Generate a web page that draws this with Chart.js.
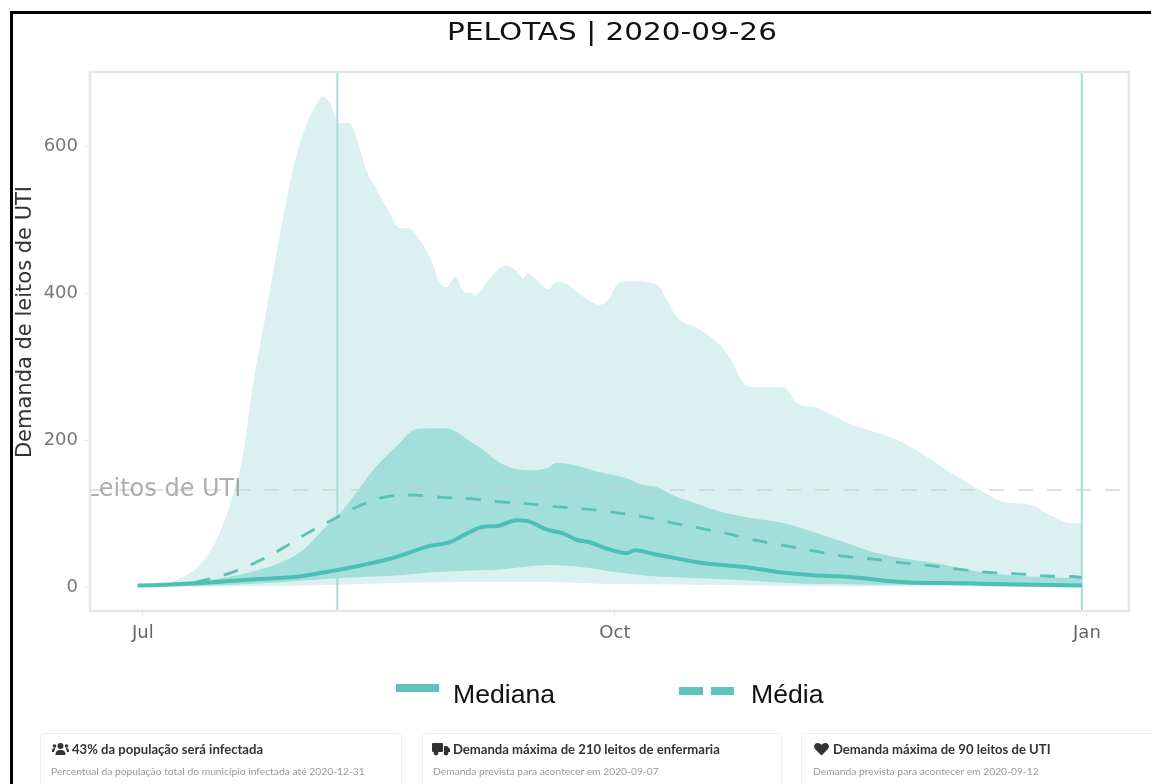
<!DOCTYPE html>
<html>
<head>
<meta charset="utf-8">
<title>PELOTAS</title>
<script src="https://cdn.jsdelivr.net/npm/chart.js@4"></script>
<style>
    html, body { margin: 0; padding: 0; background: #fff; }
    body { width: 1151px; height: 784px; position: relative; overflow: hidden; }
    #chart { position: absolute; left: 0; top: 0; }
    .frame { position: absolute; left: 10px; top: 11px; width: 1141px; height: 773px; border-left: 3px solid #000; border-top: 3px solid #000; box-sizing: border-box; }
    #title { position: absolute; left: 312px; width: 600px; top: 17px; text-align: center; font: 25px "DejaVu Sans"; color: #111; transform: scaleX(1.18); white-space: nowrap; }
    .legend-text { position: absolute; top: 679px; font: 26.6px "Liberation Sans"; color: #111; }
    .swatch { position: absolute; background: #5cc4bd; height: 8px; }
    .card { position: absolute; top: 733px; height: 70px; border: 1px solid #eee; border-radius: 4px; box-sizing: border-box; }
    .card b { position: absolute; top: 7px; white-space: nowrap; font: 700 13.1px Lato; color: #333; }
    .card span { position: absolute; top: 31px; white-space: nowrap; font: 10.3px Lato; color: #999; }
    .card svg { position: absolute; top: 8px; }
</style>
</head>
<body>
<canvas id="chart" width="1151" height="784"></canvas>
<div class="frame"></div>
<div id="title">PELOTAS | 2020-09-26</div>

<div class="swatch" style="left:396px;top:684px;width:43px"></div>
<div class="legend-text" style="left:453px">Mediana</div>
<div class="swatch" style="left:679px;top:687px;width:24px"></div>
<div class="swatch" style="left:711px;top:687px;width:23px"></div>
<div class="legend-text" style="left:751px">Média</div>

<div class="card" style="left:40px;width:362px">
    <svg style="left:11px" width="17" height="14" viewBox="0 0 17 14" fill="#333"><circle cx="8.5" cy="4" r="3"/><path d="M3.5 13c0-4 2-5 5-5s5 1 5 5z"/><circle cx="2.5" cy="4" r="1.8"/><circle cx="14.5" cy="4" r="1.8"/><path d="M0 9c0-2 1-3 2.500-3l1 .8C2.500 7.500 2.200 8.500 2 10H0zM17 9c0-2-1-3-2.500-3l-1 .8c1 .7 1.300 1.700 1.500 3.200h2z"/></svg>
    <b style="left:31px">43% da população será infectada</b>
    <span style="left:10px">Percentual da população total do município infectada até 2020-12-31</span>
</div>
<div class="card" style="left:422px;width:360px">
    <svg style="left:9px" width="18" height="14" viewBox="0 0 18 14" fill="#333"><rect x="0" y="1" width="11" height="9" rx="1"/><path d="M12 4h3l3 3v3h-6z"/><circle cx="4" cy="11" r="2.400"/><circle cx="14" cy="11" r="2.400"/></svg>
    <b style="left:30px">Demanda máxima de 210 leitos de enfermaria</b>
    <span style="left:10px">Demanda prevista para acontecer em 2020-09-07</span>
</div>
<div class="card" style="left:801px;width:380px">
    <svg style="left:12px" width="15" height="14" viewBox="0 0 15 14" fill="#333"><path d="M7.500 13.500L1 7C-1 4.500 .5 1 3.800 1c1.700 0 3 1 3.700 2 .7-1 2-2 3.700-2C14.500 1 16 4.500 14 7z"/></svg>
    <b style="left:31px">Demanda máxima de 90 leitos de UTI</b>
    <span style="left:11px">Demanda prevista para acontecer em 2020-09-12</span>
</div>

<script>
// days are counted from 1 July 2020
const monthDays = [0, 92, 184]
const monthLabels = ["Jul", "Oct", "Jan"]
const yTicks = [0, 200, 400, 600]
const markerDays = [37.9, 183]
const capacity = 132

const outerHighDays = [-1, 4.3, 7.2, 10.7, 13.6, 15.6, 17.5, 19.3, 20.3, 21, 21.6, 22.8, 24, 25.1, 26.3, 27.5, 28.8, 30.4, 32, 33.5, 35.1, 36.5, 37.6, 38.4, 40, 41.1, 42.3, 43.7, 45.6, 48.1, 50.1, 51.7, 54.4, 55.9, 57.9, 59.3, 60.8, 62.8, 63.7, 64.7, 67.1, 69.6, 71, 72.9, 74.1, 74.9, 76.8, 78.9, 80.7, 82.7, 85.8, 89.1, 90.4, 92.4, 94.9, 100.2, 102.1, 104.1, 108.6, 112.5, 114.4, 117.9, 120.3, 124.8, 127.5, 131.4, 137.2, 145.6, 150.1, 156.7, 163.2, 167.6, 172.9, 176.8, 180.7, 183]
const outerHigh = [2, 3, 12, 27, 54, 84, 124, 172, 216, 254, 282, 327, 373, 418, 463, 509, 554, 599, 631, 653, 667, 658, 639, 631, 631, 622, 595, 565, 540, 509, 488, 488, 468, 449, 414, 408, 422, 400, 401, 397, 415, 434, 437, 429, 420, 427, 418, 405, 415, 412, 395, 384, 388, 411, 416, 412, 390, 367, 350, 329, 312, 273, 272, 272, 250, 244, 224, 204, 189, 159, 132, 116, 112, 98, 87, 87]

const outerLowDays = [-1, 4.3, 20.9, 37.8, 50, 63, 79, 92, 108, 131, 183]
const outerLow = [2, 0, 1, 3, 6, 7, 7, 4, 3, 1, 0]

const innerHighDays = [-1, 4.3, 10.5, 13.6, 20.3, 26.7, 31.2, 35.1, 39, 42.9, 45.6, 49.5, 53.4, 58.9, 61.2, 63.4, 65.7, 69.6, 72.5, 76, 78.8, 80.7, 84.6, 89.1, 94.3, 96.9, 100.2, 103.3, 108.6, 110.5, 117.7, 124.8, 130.6, 137.2, 143.1, 150.1, 154, 163.7, 173.5, 183]
const innerHigh = [2, 3, 5, 10, 19, 33, 50, 78, 105, 141, 165, 192, 215, 216, 211, 200, 190, 169, 161, 159, 162, 169, 165, 156, 148, 140, 136, 125, 112, 107, 95, 87, 75, 60, 46, 37, 33, 20, 14, 12]

const innerLowDays = [-1, 4.3, 20.9, 37.8, 50.1, 56.5, 63.2, 69.6, 79.3, 85.8, 92.4, 98.8, 108.6, 117.7, 130.6, 147.6, 183]
const innerLow = [2, 1, 4, 12, 16, 20, 22, 24, 30, 27, 20, 15, 12, 9, 4, 3, 1]

const medianDays = [-1, 10.5, 20.3, 30, 37.8, 42.9, 49.5, 55.9, 59.8, 63.2, 66.3, 69, 72.9, 74.9, 78.8, 81.9, 84.6, 87.1, 89.7, 94.3, 95.9, 100.2, 104.1, 108.6, 111.1, 117.7, 124.2, 130.6, 137.2, 147.6, 160.6, 173.5, 183]
const median = [2, 5, 10, 14, 23, 30, 41, 56, 61, 73, 82, 83, 91, 90, 78, 73, 64, 61, 54, 46, 50, 44, 39, 33, 31, 27, 20, 16, 14, 7, 5, 3, 2]

const meanDays = [-1, 4.3, 10.5, 17, 22.2, 27.3, 32, 36.8, 41.7, 46.8, 52.6, 58.3, 64.1, 69.6, 75.4, 80.9, 86.5, 92.4, 97.9, 103.3, 108.6, 114.4, 119.9, 125.5, 131, 136.5, 142.3, 148, 153.4, 159.3, 164.7, 170.4, 176.2, 181.7, 183]
const mean = [2, 3, 7, 19, 34, 53, 73, 91, 109, 122, 125, 122, 120, 116, 113, 109, 106, 101, 95, 87, 80, 72, 63, 56, 49, 42, 38, 33, 29, 24, 20, 18, 15, 14, 13]

const xMin = -10.3
const xMax = 192.2
const yMin = -32.6
const yMax = 700.7

function points(xs, ys) {
    return xs.map((x, i) => ({ x: x, y: ys[i] }))
}

let object = document.getElementById("chart")

let labelsPlugin = {
    id: "labelsPlugin",
    afterDraw(chart) {
        let ctx = chart.ctx
        let area = chart.chartArea
        let y = chart.scales.y.getPixelForValue(capacity)

        // the capacity label is cut by the left edge of the plot
        ctx.save()
        ctx.beginPath()
        ctx.rect(area.left, area.top, area.width, area.height)
        ctx.clip()
        ctx.font = "24px 'DejaVu Sans'"
        ctx.fillStyle = "rgba(140,140,140,0.7)"
        ctx.textAlign = "right"
        ctx.textBaseline = "middle"
        ctx.fillText("Leitos de UTI", chart.scales.x.getPixelForValue(19.2), y)
        ctx.restore()

        // frame around the plot
        ctx.save()
        ctx.strokeStyle = "#e6e6e6"
        ctx.lineWidth = 2.5
        ctx.strokeRect(area.left, area.top, area.width, area.height)
        ctx.restore()

        ctx.save()
        ctx.translate(25.5, 322)
        ctx.rotate(-Math.PI / 2)
        ctx.font = "21px 'DejaVu Sans'"
        ctx.fillStyle = "#333"
        ctx.textAlign = "center"
        ctx.textBaseline = "middle"
        ctx.fillText("Demanda de leitos de UTI", 0, 0)
        ctx.restore()
    }
}

let config = {
    type: "line",
    data: {
        datasets: [
            { label: "Máximo", data: points(outerHighDays, outerHigh), borderWidth: 0, cubicInterpolationMode: "monotone", fill: { target: 1 }, backgroundColor: "#dbf1ef", order: 9 },
            { label: "Mínimo", data: points(outerLowDays, outerLow), borderWidth: 0, cubicInterpolationMode: "monotone", fill: false, order: 8 },
            { label: "Superior", data: points(innerHighDays, innerHigh), borderWidth: 0, cubicInterpolationMode: "monotone", fill: { target: 3 }, backgroundColor: "#a3dfda", order: 7 },
            { label: "Inferior", data: points(innerLowDays, innerLow), borderWidth: 0, cubicInterpolationMode: "monotone", fill: false, order: 6 },
            { label: "Leitos de UTI", data: points([xMin, xMax], [capacity, capacity]), borderColor: "rgba(200,200,200,0.55)", borderWidth: 2, borderDash: [15, 14], fill: false, order: 5 },
            { label: "Início", data: points([markerDays[0], markerDays[0]], [yMin, yMax]), borderColor: "#a9dcd9", borderWidth: 2, fill: false, order: 4 },
            { label: "Fim", data: points([markerDays[1], markerDays[1]], [yMin, yMax]), borderColor: "#a9dcd9", borderWidth: 2, fill: false, order: 3 },
            { label: "Média", data: points(meanDays, mean), borderColor: "#5cbfb8", borderWidth: 2.8, borderDash: [15, 14], cubicInterpolationMode: "monotone", fill: false, order: 2 },
            { label: "Mediana", data: points(medianDays, median), borderColor: "#4cbfb7", borderWidth: 4, cubicInterpolationMode: "monotone", fill: false, order: 1 }
        ]
    },
    options: {
        responsive: false,
        animation: false,
        parsing: false,
        elements: { point: { radius: 0 }, line: { tension: 0 } },
        layout: { padding: { top: 72, right: 22, bottom: 113, left: 0 } },
        plugins: {
            legend: { display: false },
            title: { display: false },
            tooltip: { enabled: false }
        },
        scales: {
            x: {
                type: "linear",
                min: xMin,
                max: xMax,
                grid: { drawOnChartArea: false, color: "#e8e8e8", tickLength: 6 },
                border: { display: false },
                afterBuildTicks: scale => { scale.ticks = monthDays.map(v => ({ value: v })) },
                afterFit: scale => { scale.height = 60 },
                ticks: {
                    maxRotation: 0,
                    autoSkip: false,
                    padding: 6,
                    color: "#666",
                    font: { family: "DejaVu Sans", size: 18 },
                    callback: value => monthLabels[monthDays.indexOf(value)]
                }
            },
            y: {
                type: "linear",
                min: yMin,
                max: yMax,
                grid: { drawOnChartArea: false, color: "#e8e8e8", tickLength: 6 },
                border: { display: false },
                afterBuildTicks: scale => { scale.ticks = yTicks.map(v => ({ value: v })) },
                afterFit: scale => { scale.width = 90 },
                ticks: {
                    padding: 6,
                    color: "#777",
                    font: { family: "DejaVu Sans", size: 18 }
                }
            }
        }
    },
    plugins: [labelsPlugin]
}

let chart = new Chart(object, config)
</script>
</body>
</html>
